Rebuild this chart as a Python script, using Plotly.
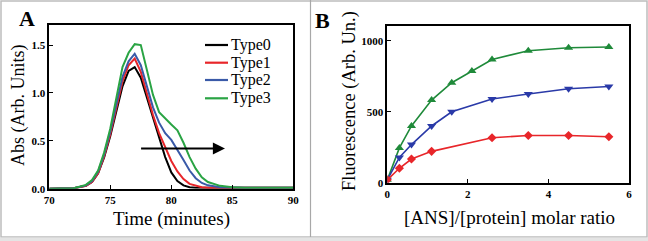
import plotly.graph_objects as go

# ---------------- Panel A data ----------------
t0 = [70, 71, 72, 73, 73.5, 74, 74.5, 75, 75.5, 76, 76.5, 77, 77.5, 78, 78.5, 79, 79.5, 80, 80.5, 81, 81.5, 82, 82.5, 83, 84, 85, 86, 88, 90]
type0 = [0.0, 0.0, 0.005, 0.03, 0.07, 0.16, 0.33, 0.55, 0.82, 1.07, 1.23, 1.27, 1.16, 0.95, 0.74, 0.53, 0.33, 0.17, 0.08, 0.035, 0.015, 0.01, 0.01, 0.01, 0.01, 0.01, 0.01, 0.01, 0.01]
type1 = [0.0, 0.0, 0.005, 0.03, 0.07, 0.16, 0.34, 0.57, 0.85, 1.12, 1.29, 1.36, 1.22, 0.98, 0.77, 0.58, 0.43, 0.29, 0.18, 0.10, 0.05, 0.03, 0.015, 0.01, 0.01, 0.01, 0.01, 0.01, 0.01]
type2 = [0.0, 0.0, 0.005, 0.035, 0.08, 0.18, 0.36, 0.60, 0.90, 1.17, 1.33, 1.41, 1.29, 1.06, 0.85, 0.69, 0.58, 0.51, 0.41, 0.30, 0.19, 0.11, 0.06, 0.035, 0.015, 0.01, 0.01, 0.01, 0.01]
type3 = [0.0, 0.0, 0.005, 0.04, 0.09, 0.19, 0.38, 0.63, 0.96, 1.27, 1.42, 1.51, 1.50, 1.23, 0.98, 0.80, 0.73, 0.67, 0.61, 0.48, 0.33, 0.21, 0.12, 0.07, 0.03, 0.015, 0.01, 0.01, 0.01]
series_a = ["Type0", "Type1", "Type2", "Type3"]
colors_a = ["#000000", "#e8262a", "#3a5aa8", "#2aa444"]
arrow_start = (77.4, 0.42)
arrow_end = (84.4, 0.42)

# ---------------- Panel B data ----------------
ratio_green = [0, 0.3, 0.6, 1.1, 1.6, 2.1, 2.6, 3.5, 4.5, 5.5]
fluor_green = [20, 245, 400, 583, 705, 788, 869, 931, 952, 957]
ratio_blue = [0, 0.3, 0.6, 1.1, 1.6, 2.6, 3.5, 4.5, 5.5]
fluor_blue = [20, 178, 269, 400, 500, 590, 626, 662, 678]
ratio_red = [0, 0.3, 0.6, 1.1, 2.6, 3.5, 4.5, 5.5]
fluor_red = [20, 102, 167, 221, 317, 333, 333, 324]

W, H = 648, 241
FONT = "Liberation Serif"

fig = go.Figure()
for name, ys, c in zip(series_a, [type0, type1, type2, type3], colors_a):
    fig.add_trace(go.Scatter(x=t0, y=ys, mode="lines", name=name, showlegend=False,
                             line=dict(color=c, width=2), xaxis="x", yaxis="y"))

fig.add_trace(go.Scatter(x=ratio_green, y=fluor_green, mode="lines+markers", showlegend=False,
                         line=dict(color="#1f8a3a", width=1.6),
                         marker=dict(symbol="triangle-up", size=8, color="#1f8a3a"),
                         xaxis="x2", yaxis="y2"))
fig.add_trace(go.Scatter(x=ratio_blue, y=fluor_blue, mode="lines+markers", showlegend=False,
                         line=dict(color="#2a3aa8", width=1.6),
                         marker=dict(symbol="triangle-down", size=8, color="#2a3aa8"),
                         xaxis="x2", yaxis="y2"))
fig.add_trace(go.Scatter(x=ratio_red, y=fluor_red, mode="lines+markers", showlegend=False,
                         line=dict(color="#e8262a", width=1.6),
                         marker=dict(symbol="diamond", size=7, color="#e8262a"),
                         xaxis="x2", yaxis="y2"))

axis_common = dict(showline=True, linecolor="black", linewidth=1.5, mirror=True,
                   ticks="inside", ticklen=4, tickcolor="black", tickwidth=1,
                   showgrid=False, zeroline=False, automargin=False,
                   tickfont=dict(family=FONT, size=11, color="black", weight="bold"))

fig.update_layout(
    width=W, height=H, template="none",
    margin=dict(l=0, r=0, t=0, b=0),
    paper_bgcolor="white", plot_bgcolor="white",
    xaxis=dict(domain=[49.3 / W, 293.3 / W], range=[70, 90], tickvals=[70, 75, 80, 85, 90],
               anchor="y", **axis_common),
    yaxis=dict(domain=[1 - 188.7 / H, 1 - 25 / H], range=[0, 1.71], tickvals=[0, 0.5, 1.0, 1.5],
               tickformat=".1f", anchor="x", **axis_common),
    xaxis2=dict(domain=[387.3 / W, 629 / W], range=[0, 6], tickvals=[0, 2, 4, 6],
                anchor="y2", **axis_common),
    yaxis2=dict(domain=[1 - 182.7 / H, 1 - 26 / H], range=[0, 1105], tickvals=[0, 500, 1000],
                anchor="x2", **axis_common),
    showlegend=False,
)

# custom compact legend for panel A
legend_rows_px = [45, 62.7, 80, 98.3]
for name, c, ypx in zip(series_a, colors_a, legend_rows_px):
    fig.add_shape(type="line", xref="paper", yref="paper", x0=205 / W, x1=228 / W,
                  y0=1 - ypx / H, y1=1 - ypx / H, line=dict(color=c, width=2.2))
    fig.add_annotation(text=name, x=228.5 / W, y=1 - ypx / H, xref="paper", yref="paper",
                       showarrow=False, xanchor="left", yanchor="middle",
                       font=dict(family=FONT, size=16, color="black"))

ann = [
    dict(text="<b>A</b>", x=27 / W, y=1 - 19 / H, size=22),
    dict(text="<b>B</b>", x=322 / W, y=1 - 20 / H, size=22),
    dict(text="Time (minutes)", x=171 / W, y=1 - 219 / H, size=19),
    dict(text="[ANS]/[protein] molar ratio", x=509 / W, y=1 - 217 / H, size=19),
]
for a in ann:
    fig.add_annotation(text=a["text"], x=a["x"], y=a["y"], xref="paper", yref="paper",
                       showarrow=False, xanchor="center", yanchor="middle",
                       font=dict(family=FONT, size=a["size"], color="black"))
fig.add_annotation(text="Abs (Arb. Units)", x=18 / W, y=1 - 105 / H, xref="paper", yref="paper",
                   showarrow=False, textangle=-90, xanchor="center", yanchor="middle",
                   font=dict(family=FONT, size=18, color="black"))
fig.add_annotation(text="Fluorescence (Arb. Un.)", x=349 / W, y=1 - 101 / H, xref="paper", yref="paper",
                   showarrow=False, textangle=-90, xanchor="center", yanchor="middle",
                   font=dict(family=FONT, size=18.5, color="black"))

# arrow in panel A
fig.add_annotation(x=arrow_end[0], y=arrow_end[1], ax=arrow_start[0], ay=arrow_start[1],
                   xref="x", yref="y", axref="x", ayref="y", text="", showarrow=True,
                   arrowhead=2, arrowsize=1.1, arrowwidth=2.2, arrowcolor="black")

# panel frames
fig.add_shape(type="rect", xref="paper", yref="paper", x0=1 / W, x1=1 - 1 / W, y0=4 / H, y1=1 - 1 / H,
              line=dict(color="#bdbdbd", width=1.5), fillcolor="rgba(0,0,0,0)", layer="below")
fig.add_shape(type="line", xref="paper", yref="paper", x0=310.5 / W, x1=310.5 / W, y0=4 / H, y1=1,
              line=dict(color="#a8a8a8", width=1.2))
fig.add_shape(type="rect", xref="paper", yref="paper", x0=0, x1=1, y0=0, y1=3.5 / H,
              line=dict(width=0), fillcolor="#e4e4e4")

fig.write_html("out.html", config={"displayModeBar": False},
               post_script="document.body.style.margin='0px';document.body.style.overflow='hidden';")
